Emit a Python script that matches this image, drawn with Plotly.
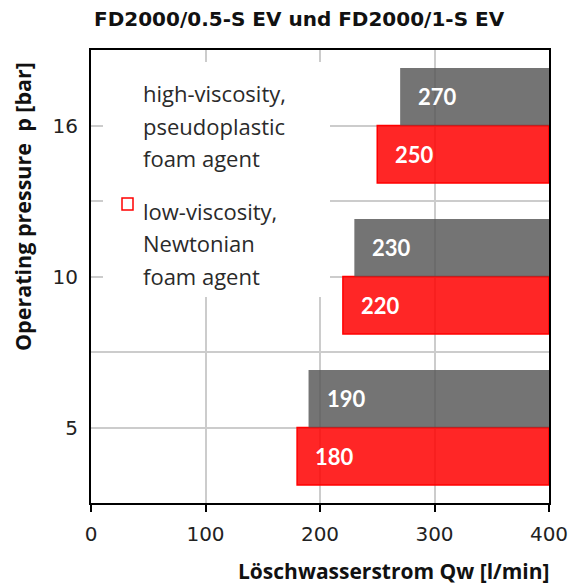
import plotly.graph_objects as go

# ---- data ----
categories = ["5", "10", "16"]           # operating pressure p [bar]
high_visc = [190, 230, 270]              # high-viscosity, pseudoplastic foam agent
low_visc = [180, 220, 250]               # low-viscosity, Newtonian foam agent
x_ticks = [0, 100, 200, 300, 400]
x_max = 400
legend_high = ["high-viscosity,", "pseudoplastic", "foam agent"]
legend_low = ["low-viscosity,", "Newtonian", "foam agent"]
title = "FD2000/0.5-S EV und FD2000/1-S EV"
x_title = "Löschwasserstrom Qw [l/min]"
y_title = "Operating pressure  p [bar]"

LEG = "Open Sans"
TICK = "DejaVu Sans"
BOLD = "Open Sans"
TITLE = "DejaVu Sans"
LBL = "Lato"

pos = list(range(len(categories)))

fig = go.Figure()
fig.add_bar(
    y=pos, x=[x_max - v for v in low_visc], base=low_visc, orientation="h",
    marker=dict(color="rgba(255,0,0,0.85)", line=dict(color="rgb(255,0,0)", width=1.5)),
    name="low-viscosity, Newtonian foam agent", showlegend=False, hoverinfo="skip",
)
fig.add_bar(
    y=pos, x=[x_max - v for v in high_visc], base=high_visc, orientation="h",
    marker=dict(color="rgba(85,85,85,0.82)", line=dict(width=0)),
    name="high-viscosity, pseudoplastic foam agent", showlegend=False, hoverinfo="skip",
)

annotations = []
for p, v in zip(pos, high_visc):
    annotations.append(dict(x=v, y=p + 0.19, xref="x", yref="y", text=str(v), showarrow=False,
                            xanchor="left", yanchor="middle", xshift=16,
                            font=dict(family=LBL, size=22, color="white", weight="bold")))
for p, v in zip(pos, low_visc):
    annotations.append(dict(x=v, y=p - 0.19, xref="x", yref="y", text=str(v), showarrow=False,
                            xanchor="left", yanchor="middle", xshift=16,
                            font=dict(family=LBL, size=22, color="white", weight="bold")))

# legend drawn as text lines (plot area: x 91..549 px, y 50..503 px)
def px_x(px):
    return (px - 91) / 458.0

def px_y(py):
    return (503 - py) / 453.0

for txt, ypx in zip(legend_high, [93, 126, 158]):
    annotations.append(dict(x=px_x(141), y=px_y(ypx), xref="paper", yref="paper", text=txt,
                            showarrow=False, xanchor="left", yanchor="middle",
                            font=dict(family=LEG, size=22, color="#2a2a2a")))
for txt, ypx in zip(legend_low, [211, 243, 276]):
    annotations.append(dict(x=px_x(141), y=px_y(ypx), xref="paper", yref="paper", text=txt,
                            showarrow=False, xanchor="left", yanchor="middle",
                            font=dict(family=LEG, size=22, color="#2a2a2a")))

annotations.append(dict(x=px_x(552), y=px_y(571), xref="paper", yref="paper", text=x_title,
                        showarrow=False, xanchor="right", yanchor="middle",
                        font=dict(family=BOLD, size=21, color="#111", weight="bold")))
annotations.append(dict(x=px_x(22), y=px_y(207), xref="paper", yref="paper", text=y_title,
                        showarrow=False, xanchor="center", yanchor="middle", textangle=-90,
                        font=dict(family=BOLD, size=21.5, color="#111", weight="bold")))
annotations.append(dict(x=px_x(299), y=px_y(19), xref="paper", yref="paper", text=title,
                        showarrow=False, xanchor="center", yanchor="middle",
                        font=dict(family=TITLE, size=20, color="#111", weight="bold")))

shapes = [
    dict(type="rect", xref="paper", yref="paper", x0=px_x(103), x1=px_x(330),
         y0=px_y(297), y1=px_y(62), fillcolor="white", line=dict(width=0), layer="above"),
    dict(type="rect", xref="paper", yref="paper", x0=px_x(122), x1=px_x(133),
         y0=px_y(210), y1=px_y(198), fillcolor="rgba(0,0,0,0)",
         line=dict(color="rgb(255,0,0)", width=1.5), layer="above"),
]

fig.update_layout(
    width=572, height=584,
    margin=dict(l=91, r=23, t=50, b=81, autoexpand=False),
    paper_bgcolor="white", plot_bgcolor="white",
    barmode="group", bargap=0.24, bargroupgap=0,
    annotations=annotations, shapes=shapes, showlegend=False,
)
fig.update_xaxes(
    range=[0, x_max], tickvals=x_ticks, ticktext=[str(t) for t in x_ticks],
    showgrid=True, gridcolor="#cccccc", gridwidth=2, automargin=False,
    showline=True, linecolor="black", linewidth=2, mirror=True,
    ticks="outside", ticklen=7, tickwidth=2, tickcolor="black", ticklabelstandoff=5,
    tickfont=dict(family=TICK, size=20, color="#222"), zeroline=False,
)
fig.update_yaxes(
    range=[-0.5, len(categories) - 0.5],
    tickvals=[0, 0.5, 1, 1.5, 2], ticktext=[categories[0], "", categories[1], "", categories[2]],
    showgrid=True, gridcolor="#cccccc", gridwidth=2, automargin=False,
    showline=True, linecolor="black", linewidth=2, mirror=True,
    ticks="", ticklabelstandoff=7,
    tickfont=dict(family=TICK, size=20, color="#222"), zeroline=False,
)

fig.write_html("out.html")
